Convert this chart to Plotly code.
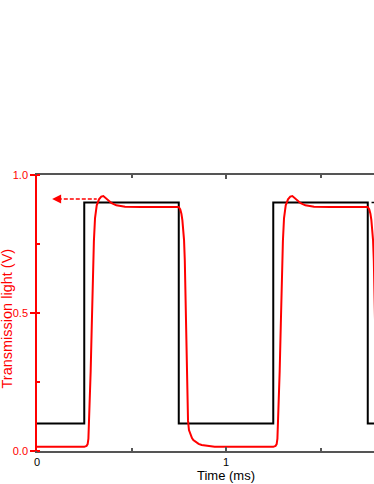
import plotly.graph_objects as go

# ---- data ----
square_t = [0.0, 0.25, 0.25, 0.75, 0.75, 1.25, 1.25, 1.75, 1.75, 2.0]
square_v = [0.1, 0.1, 0.9, 0.9, 0.1, 0.1, 0.9, 0.9, 0.1, 0.1]

trans_t = [0.0, 0.25, 0.262, 0.268, 0.272, 0.278, 0.284, 0.290, 0.295, 0.301, 0.307,
           0.316, 0.328, 0.340, 0.351, 0.362, 0.375, 0.395, 0.42, 0.466, 0.55, 0.65,
           0.75, 0.758, 0.764, 0.769, 0.774, 0.778, 0.782, 0.786, 0.790, 0.794, 0.799,
           0.804, 0.812, 0.820, 0.827, 0.840, 0.855, 0.871, 0.90, 0.94, 1.0, 1.1,
           1.25, 1.262, 1.268, 1.272, 1.278, 1.284, 1.290, 1.295, 1.301, 1.307,
           1.316, 1.328, 1.340, 1.351, 1.362, 1.375, 1.395, 1.42, 1.466, 1.55, 1.65,
           1.75, 1.758, 1.764, 1.769, 1.774, 1.778, 1.782, 1.786, 1.790, 1.794, 1.799,
           1.804, 1.812, 1.820, 1.827, 1.840]
trans_v = [0.015, 0.015, 0.018, 0.025, 0.045, 0.15, 0.29, 0.46, 0.62, 0.76, 0.844,
           0.89, 0.912, 0.922, 0.924, 0.918, 0.908, 0.898, 0.890, 0.885, 0.884, 0.884,
           0.884, 0.875, 0.860, 0.837, 0.805, 0.764, 0.69, 0.55, 0.36, 0.20, 0.11,
           0.076, 0.058, 0.047, 0.040, 0.032, 0.026, 0.022, 0.018, 0.015, 0.015, 0.015,
           0.015, 0.018, 0.025, 0.045, 0.15, 0.29, 0.46, 0.62, 0.76, 0.844,
           0.89, 0.912, 0.922, 0.924, 0.918, 0.908, 0.898, 0.890, 0.885, 0.884, 0.884,
           0.884, 0.875, 0.860, 0.837, 0.805, 0.764, 0.69, 0.55, 0.36, 0.20, 0.11,
           0.076, 0.058, 0.047, 0.040, 0.032]

y_ticks = [0.0, 0.5, 1.0]
y_ticklabels = ["0.0", "0.5", "1.0"]
x_ticks = [0, 1]
x_ticklabels = ["0", "1"]

arrow_y = 0.913
arrow_from = 0.316
arrow_to = 0.08
right_arrow_from = 1.77
right_arrow_to = 2.0

RED = "#ff0000"
FONT = "Liberation Sans, Arial, sans-serif"

fig = go.Figure()
fig.add_trace(go.Scatter(x=square_t, y=square_v, mode="lines",
                         line=dict(color="#000000", width=2), showlegend=False))
fig.add_trace(go.Scatter(x=trans_t, y=trans_v, mode="lines",
                         line=dict(color=RED, width=2), showlegend=False))

# dashed arrow for the left axis
fig.add_shape(type="line", xref="x", yref="y", x0=arrow_to + 0.03, x1=arrow_from,
              y0=arrow_y, y1=arrow_y, line=dict(color=RED, width=1.5, dash="4px,2px"))
fig.add_annotation(x=arrow_to, y=arrow_y, ax=arrow_to + 0.04, ay=arrow_y,
                   xref="x", yref="y", axref="x", ayref="y", text="",
                   showarrow=True, arrowhead=2, arrowsize=1.2, arrowwidth=1.5,
                   arrowcolor=RED)
# dashed arrow for the (cut-off) right axis
fig.add_shape(type="line", xref="x", yref="y", x0=right_arrow_from, x1=right_arrow_to,
              y0=0.9, y1=0.9, line=dict(color="#000000", width=1.5, dash="4px,2px"))

# axis titles
fig.add_annotation(x=1.0, y=0, xref="x", yref="paper", yshift=-24,
                   text="Time (ms)", showarrow=False, yanchor="middle",
                   font=dict(family=FONT, size=13, color="#000000"))
fig.add_annotation(x=0, y=0.48, xref="paper", yref="paper", xshift=-30,
                   text="Transmission light (V)", showarrow=False, textangle=-90,
                   xanchor="center", yanchor="middle",
                   font=dict(family=FONT, size=14.5, color=RED))

fig.update_layout(
    width=374, height=484,
    margin=dict(l=37, r=0, t=175, b=33),
    paper_bgcolor="white", plot_bgcolor="white",
    font=dict(family=FONT),
    xaxis=dict(range=[0, 1.783], tickvals=x_ticks, ticktext=x_ticklabels,
               automargin=False,
               showgrid=False, zeroline=False, showline=True, linecolor="#555555",
               linewidth=1.5, mirror="ticks", ticks="inside", ticklen=4,
               tickcolor="#555555", tickwidth=1.5,
               tickfont=dict(family=FONT, size=11, color="#000000"),
               minor=dict(dtick=0.5, tick0=0, ticks="inside", ticklen=3,
                          tickcolor="#555555", tickwidth=1.5)),
    yaxis=dict(range=[0, 1], tickvals=y_ticks, ticktext=y_ticklabels,
               automargin=False,
               showgrid=False, zeroline=False, showline=True, linecolor=RED,
               linewidth=1.5, ticks="outside", ticklen=5, tickcolor=RED, tickwidth=1.5,
               tickfont=dict(family=FONT, size=11, color=RED),
               minor=dict(dtick=0.25, tick0=0, ticks="inside", ticklen=3,
                          tickcolor=RED, tickwidth=1.5)),
)

# remove the browser's default 8px page margin so the figure fills the window
fig.write_html("out.html", config={"displayModeBar": False},
               post_script="document.body.style.margin='0';"
                           "document.body.style.overflow='hidden';")
